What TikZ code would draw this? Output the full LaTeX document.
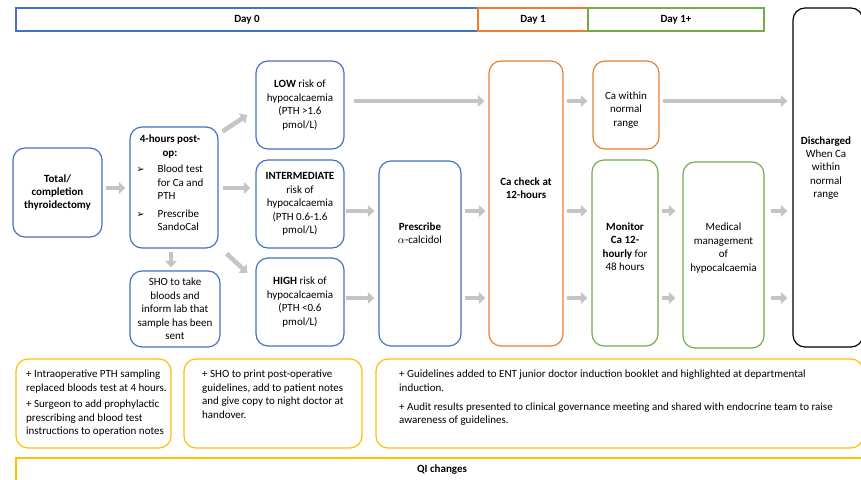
\documentclass[tikz,border=0pt]{standalone}
\usepackage{fontspec}
\setmainfont{Carlito}
\newfontfamily\bulletglyphfont{DejaVu Sans}
\usepackage{tikz}
\usetikzlibrary{arrows.meta,calc}

\definecolor{nodeblue}{HTML}{4472C4}
\definecolor{nodeorange}{HTML}{ED7D31}
\definecolor{nodegreen}{HTML}{70AD47}
\definecolor{qiyellow}{HTML}{FFC000}
\definecolor{arrowgray}{HTML}{C4C4C4}

\newcommand{\arrbullet}{{\bulletglyphfont\fontsize{9.5}{10}\selectfont ➢}}

\tikzset{
  txt/.style={font=\fontsize{11}{13.4}\selectfont},
  txtb/.style={font=\fontsize{11}{13.4}\selectfont\bfseries},
  rbox/.style={draw, txt, rounded corners=12pt, line width=1.2pt, align=center, inner sep=1pt},
  dayhead/.style={draw, txtb, line width=1.5pt, minimum height=23pt, inner sep=0pt},
  lbl/.style={txt, align=center, inner sep=0pt},
  qitext/.style={txt, align=left, inner sep=0pt, anchor=north west},
  gar/.style={draw=arrowgray, line width=4.5pt, -{Triangle[width=11.5pt,length=6.5pt]}}
}

\begin{document}
\begin{tikzpicture}[x=1pt,y=-1pt]
    \useasboundingbox (0,0) rectangle (861,479);
    \clip (0,0) rectangle (861,479);
    % day headers
    \node[dayhead, draw=nodeblue, minimum width=462pt] (day0) at (247,19.5) {Day 0};
    \node[dayhead, draw=nodeorange, minimum width=110pt] (day1) at (533,19.5) {Day 1};
    \node[dayhead, draw=nodegreen, minimum width=176pt] (day1p) at (676,19.5) {Day 1+};

    % day 0
    \node[rbox, txtb, draw=nodeblue, minimum width=89pt, minimum height=89pt] (total) at (57.5,192.5) {Total/\\completion\\thyroidectomy};
    \node[rbox, draw=nodeblue, minimum width=88pt, minimum height=121pt] (post) at (174,187.5) {};
    \node[lbl] (postlbl) at (170,185) {\textbf{4-hours post-}\\\textbf{op:}\\[3pt]
        \begin{tabular}[t]{@{}l@{\hspace{13pt}}l@{}}
            \arrbullet & Blood test\\
                       & for Ca and\\
                       & PTH\\[4.5pt]
            \arrbullet & Prescribe\\
                       & SandoCal
        \end{tabular}};
    \node[rbox, draw=nodeblue, minimum width=90pt, minimum height=76pt] (sho) at (175,309) {SHO to take\\bloods and\\inform lab that\\sample has been\\sent};
    \node[rbox, draw=nodeblue, minimum width=88pt, minimum height=88pt] (low) at (300,105) {\textbf{LOW} risk of\\hypocalcaemia\\(PTH >1.6\\pmol/L)};
    \node[rbox, draw=nodeblue, minimum width=88pt, minimum height=88pt] (inter) at (300,204) {\textbf{INTERMEDIATE}\\risk of\\hypocalcaemia\\(PTH 0.6-1.6\\pmol/L)};
    \node[rbox, draw=nodeblue, minimum width=88pt, minimum height=88pt] (high) at (300,302) {\textbf{HIGH} risk of\\hypocalcaemia\\(PTH <0.6\\pmol/L)};
    \node[rbox, draw=nodeblue, minimum width=82pt, minimum height=185pt] (presc) at (420,253.5) {};
    \node[lbl] (presclbl) at (420,233) {\textbf{Prescribe}\\$\alpha$-calcidol};

    % day 1
    \node[rbox, draw=nodeorange, minimum width=74pt, minimum height=285pt] (cachk) at (526,203.5) {};
    \node[lbl, txtb] (cachklbl) at (526,188) {Ca check at\\12-hours};
    \node[rbox, draw=nodeorange, minimum width=66pt, minimum height=88pt] (canorm) at (626,105) {};
    \node[lbl] (canormlbl) at (626,110) {Ca within\\normal\\range};

    % day 1+
    \node[rbox, draw=nodegreen, minimum width=66pt, minimum height=186pt] (monitor) at (625,253) {};
    \node[lbl] (monitorlbl) at (625,246.5) {\textbf{Monitor}\\\textbf{Ca 12-}\\\textbf{hourly} for\\48 hours};
    \node[rbox, draw=nodegreen, minimum width=81pt, minimum height=186pt] (medical) at (723.5,255) {};
    \node[lbl] (medicallbl) at (723.5,248) {Medical\\management\\of\\hypocalcaemia};
    \node[rbox, draw=black, minimum width=70pt, minimum height=339pt] (disch) at (828,177.5) {};
    \node[lbl] (dischlbl) at (826,168) {\textbf{Discharged}\\When Ca\\within\\normal\\range};

    % arrows
    \coordinate (rowP) at (0,188);
    \coordinate (rowT) at (0,101);
    \coordinate (rowA) at (0,211);
    \coordinate (rowB) at (0,298);
    \draw[gar] ([xshift=3]total.east |- rowP) -- ([xshift=-4]post.west |- rowP);
    \draw[gar] ([shift={(4,5)}]post.north east) -- ([shift={(-8,10)}]low.west);
    \draw[gar] ([xshift=4]post.east |- rowP) -- ([xshift=-5]inter.west |- rowP);
    \draw[gar] ([shift={(8,5)}]post.south east) -- ([shift={(-8,-29)}]high.west);
    \draw[gar] ([shift={(-3,3)}]post.south) -- ([shift={(-4,-3)}]sho.north);
    \draw[gar] ([xshift=9]low.east |- rowT) -- ([xshift=-4]cachk.west |- rowT);
    \draw[gar] ([xshift=3]cachk.east |- rowT) -- ([xshift=-5]canorm.west |- rowT);
    \draw[gar] ([xshift=3]canorm.east |- rowT) -- ([xshift=-5]disch.west |- rowT);
    \draw[gar] ([xshift=1]inter.east |- rowA) -- ([xshift=-4]presc.west |- rowA);
    \draw[gar] ([xshift=1]high.east |- rowB) -- ([xshift=-4]presc.west |- rowB);
    \foreach \r in {rowA,rowB}{
        \draw[gar] ([xshift=3]presc.east |- \r) -- ([xshift=-3]cachk.west |- \r);
        \draw[gar] ([xshift=3]cachk.east |- \r) -- ([xshift=-4]monitor.west |- \r);
        \draw[gar] ([xshift=3]monitor.east |- \r) -- ([xshift=-7]medical.west |- \r);
        \draw[gar] ([xshift=6]medical.east |- \r) -- ([xshift=-5]disch.west |- \r);
    }

    % QI changes
    \node[rbox, draw=qiyellow, minimum width=155pt, minimum height=89pt] (qione) at (93.5,403.5) {};
    \node[qitext] (qionetxt) at (26,370) {+ Intraoperative PTH sampling\\replaced bloods test at 4 hours.\\[3pt]+ Surgeon to add prophylactic\\prescribing and blood test\\instructions to operation notes};
    \node[rbox, draw=qiyellow, minimum width=178pt, minimum height=89pt] (qitwo) at (273,403.5) {};
    \node[qitext] (qitwotxt) at (202,370) {+ SHO to print post-operative\\guidelines, add to patient notes\\and give copy to night doctor at\\handover.};
    \node[rbox, draw=qiyellow, minimum width=487pt, minimum height=89pt] (qithree) at (619.5,403.5) {};
    \node[qitext] (qithreetxt) at (399,370) {+ Guidelines added to ENT junior doctor induction booklet and highlighted at departmental\\induction.\\[5.5pt]+ Audit results presented to clinical governance meeting and shared with endocrine team to raise\\awareness of guidelines.};
    \node[draw=qiyellow, line width=1.5pt, minimum width=854pt, minimum height=42pt, inner sep=0pt] (qibar) at (443,479) {};
    \node[lbl, txtb] (qibarlbl) at (442,470) {QI changes};
\end{tikzpicture}
\end{document}
